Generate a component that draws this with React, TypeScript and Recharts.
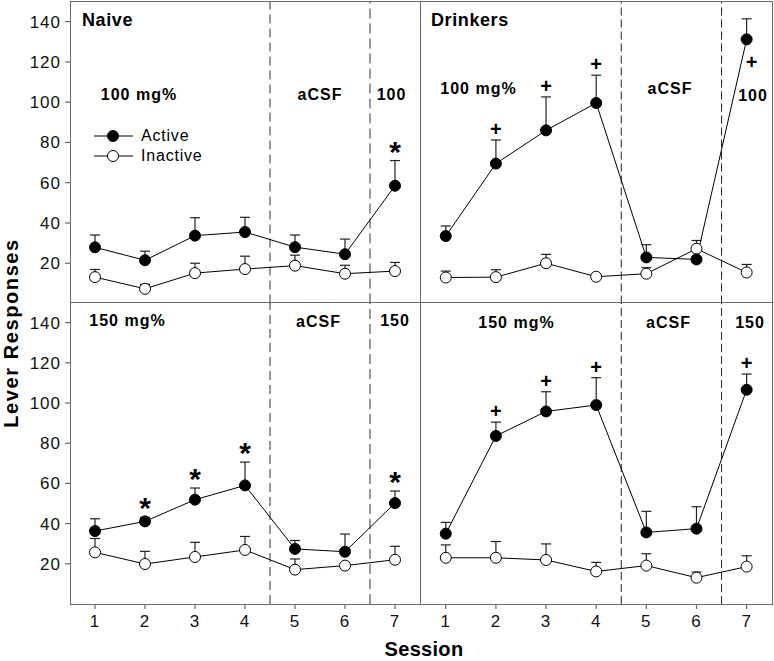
import React from "react";
import { ErrorBar, Line, LineChart, ReferenceLine, XAxis, YAxis } from "recharts";

const SESSIONS = [1, 2, 3, 4, 5, 6, 7];
const Y_TICKS = [20, 40, 60, 80, 100, 120, 140];

// naive, 100 mg%
const NAIVE_100_ACTIVE = [27.9, 21.5, 33.7, 35.5, 28, 24.5, 58.5];
const NAIVE_100_ACTIVE_SEM = [6.1, 4.5, 8.9, 7.3, 6, 7.5, 12.5];
const NAIVE_100_INACTIVE = [13.1, 7.3, 15.1, 17.1, 18.8, 14.8, 16.1];
const NAIVE_100_INACTIVE_SEM = [3.8, 2.2, 4.9, 6.4, 5.2, 4.2, 4.3];
const NAIVE_100_MARKS = ["", "", "", "", "", "", "*"];

// drinkers, 100 mg%
const DRINK_100_ACTIVE = [33.5, 69.5, 86, 99.6, 22.9, 21.9, 131.2];
const DRINK_100_ACTIVE_SEM = [5, 11.7, 16.6, 13.8, 6.3, 1, 10.2];
const DRINK_100_INACTIVE = [12.9, 13.1, 20, 13.3, 14.8, 27.2, 15.4];
const DRINK_100_INACTIVE_SEM = [3.2, 3.7, 4.4, 1, 3, 4.1, 4];
const DRINK_100_MARKS = ["", "+", "+", "+", "", "", "+"];
const DRINK_100_MARK_BELOW = [7];

// naive, 150 mg%
const NAIVE_150_ACTIVE = [36.3, 41.1, 51.9, 59, 27.4, 26, 50.2];
const NAIVE_150_ACTIVE_SEM = [6.1, 2, 5.8, 11.6, 4.2, 8.8, 6];
const NAIVE_150_INACTIVE = [25.7, 19.9, 23.4, 26.9, 17.1, 19.1, 22];
const NAIVE_150_INACTIVE_SEM = [6.9, 6.3, 7.3, 6.7, 5.3, 1, 6.7];
const NAIVE_150_MARKS = ["", "*", "*", "*", "", "", "*"];

// drinkers, 150 mg%
const DRINK_150_ACTIVE = [35, 83.6, 95.8, 99, 35.6, 37.5, 106.6];
const DRINK_150_ACTIVE_SEM = [5.6, 6.9, 9.8, 13.6, 10.5, 10.9, 7.8];
const DRINK_150_INACTIVE = [23, 23, 21.9, 16.2, 19.1, 13.1, 18.6];
const DRINK_150_INACTIVE_SEM = [6.4, 8.1, 8, 4.5, 5.9, 2.8, 5.4];
const DRINK_150_MARKS = ["", "+", "+", "+", "", "", "+"];

const FONT = "'Liberation Sans', Arial, sans-serif";
const FRAME = "#6a6a6a";

type PanelProps = {
  left: number;
  top: number;
  width: number;
  height: number;
  margin: { top: number; right: number; bottom: number; left: number };
  active: number[];
  activeSem: number[];
  inactive: number[];
  inactiveSem: number[];
  marks: string[];
  markBelow?: number[];
  yAxis: boolean;
  xAxis: boolean;
  grayDash: boolean;
};

function buildRows(p: PanelProps) {
  return SESSIONS.map((s, i) => {
    const below = (p.markBelow ?? []).includes(s);
    return {
      session: s,
      active: p.active[i],
      inactive: p.inactive[i],
      activeErr: [0, p.activeSem[i]],
      inactiveErr: [0, p.inactiveSem[i]],
      markTop: p.marks[i] ? (below ? p.active[i] : p.active[i] + p.activeSem[i]) : null,
      mark: p.marks[i],
      below,
    };
  });
}

function MarkDot(props: any) {
  const { cx, cy, payload, index } = props;
  if (cx == null || cy == null || !payload || !payload.mark) return <g key={index} />;
  if (payload.mark === "*") {
    return (
      <text key={index} x={cx} y={cy + 1} textAnchor="middle" fontFamily={FONT} fontWeight="bold" fontSize={30} fill="#000">
        *
      </text>
    );
  }
  if (payload.below) {
    return (
      <text key={index} x={cx + 5} y={cy + 30} textAnchor="middle" fontFamily={FONT} fontWeight="bold" fontSize={20} fill="#000">
        +
      </text>
    );
  }
  return (
    <text key={index} x={cx} y={cy - 4} textAnchor="middle" fontFamily={FONT} fontWeight="bold" fontSize={20} fill="#000">
      +
    </text>
  );
}

function Panel(p: PanelProps) {
  const rows = buildRows(p);
  const tickStyle = { fontFamily: FONT, fontSize: 17, fill: "#111", letterSpacing: 1 };
  return (
    <div style={{ position: "absolute", left: p.left, top: p.top }}>
      <LineChart width={p.width} height={p.height} data={rows} margin={p.margin}>
        <XAxis
          dataKey="session"
          type="number"
          domain={[0.5, 7.5]}
          ticks={SESSIONS}
          hide={!p.xAxis}
          height={30}
          axisLine={false}
          tickLine={{ stroke: FRAME, strokeWidth: 1.2 }}
          tickSize={5}
          tickMargin={6}
          tick={tickStyle}
        />
        <YAxis
          type="number"
          domain={[0, 150]}
          ticks={Y_TICKS}
          hide={!p.yAxis}
          width={70}
          axisLine={false}
          tickLine={{ stroke: FRAME, strokeWidth: 1.2 }}
          tickSize={5}
          tickMargin={4}
          tick={tickStyle}
        />
        <ReferenceLine
          x={4.5}
          stroke={p.grayDash ? "#555" : "#222"}
          strokeWidth={p.grayDash ? 1.2 : 1}
          strokeDasharray={p.grayDash ? "9 5" : "8 4"}
        />
        <ReferenceLine
          x={6.5}
          stroke={p.grayDash ? "#999" : "#222"}
          strokeWidth={p.grayDash ? 2 : 1}
          strokeDasharray={p.grayDash ? "10 5" : "8 4"}
        />
        <Line dataKey="inactive" stroke="none" dot={false} activeDot={false} isAnimationActive={false} legendType="none">
          <ErrorBar dataKey="inactiveErr" direction="y" width={5} stroke="#222" strokeWidth={1.2} />
        </Line>
        <Line dataKey="active" stroke="none" dot={false} activeDot={false} isAnimationActive={false} legendType="none">
          <ErrorBar dataKey="activeErr" direction="y" width={5} stroke="#222" strokeWidth={1.2} />
        </Line>
        <Line
          dataKey="inactive"
          stroke="#000"
          strokeWidth={1}
          dot={{ r: 5.5, fill: "#fff", stroke: "#000", strokeWidth: 1 }}
          activeDot={false}
          isAnimationActive={false}
        />
        <Line
          dataKey="active"
          stroke="#000"
          strokeWidth={1}
          dot={{ r: 5.5, fill: "#000", stroke: "#000", strokeWidth: 1 }}
          activeDot={false}
          isAnimationActive={false}
        />
        <Line
          dataKey="markTop"
          stroke="none"
          dot={MarkDot}
          activeDot={false}
          isAnimationActive={false}
          connectNulls={false}
        />
      </LineChart>
    </div>
  );
}

function Tag({ x, y, text, size = 16, bold = true, center = true, spacing = 1 }: any) {
  return (
    <div
      style={{
        position: "absolute",
        left: x,
        top: y,
        transform: center ? "translate(-50%, -50%)" : "translate(0, -50%)",
        fontFamily: FONT,
        fontWeight: bold ? "bold" : "normal",
        fontSize: size,
        letterSpacing: spacing,
        lineHeight: 1.15,
        whiteSpace: "nowrap",
        color: "#000",
      }}
    >
      {text}
    </div>
  );
}

function LegendRow({ y, filled, label }: { y: number; filled: boolean; label: string }) {
  return (
    <>
      <svg style={{ position: "absolute", left: 92, top: y - 7 }} width={44} height={14}>
        <line x1={2} y1={7} x2={41} y2={7} stroke="#000" strokeWidth={1} />
        <circle cx={21} cy={7} r={5.5} fill={filled ? "#000" : "#fff"} stroke="#000" strokeWidth={1} />
      </svg>
      <Tag x={141} y={y} text={label} size={16} bold={false} center={false} spacing={0.8} />
    </>
  );
}

export default function App() {
  return (
    <div style={{ position: "absolute", left: 0, top: 0, width: 774, height: 661, background: "#fff", overflow: "hidden" }}>
      <Panel
        left={0} top={0} width={430} height={320}
        margin={{ top: 1.5, right: 10, bottom: 16.5, left: 0 }}
        active={NAIVE_100_ACTIVE} activeSem={NAIVE_100_ACTIVE_SEM}
        inactive={NAIVE_100_INACTIVE} inactiveSem={NAIVE_100_INACTIVE_SEM}
        marks={NAIVE_100_MARKS} yAxis xAxis={false} grayDash
      />
      <Panel
        left={410} top={0} width={364} height={320}
        margin={{ top: 1.5, right: 2.3, bottom: 16.5, left: 10.7 }}
        active={DRINK_100_ACTIVE} activeSem={DRINK_100_ACTIVE_SEM}
        inactive={DRINK_100_INACTIVE} inactiveSem={DRINK_100_INACTIVE_SEM}
        marks={DRINK_100_MARKS} markBelow={DRINK_100_MARK_BELOW} yAxis={false} xAxis={false} grayDash={false}
      />
      <Panel
        left={0} top={295} width={430} height={366}
        margin={{ top: 7.5, right: 10, bottom: 27, left: 0 }}
        active={NAIVE_150_ACTIVE} activeSem={NAIVE_150_ACTIVE_SEM}
        inactive={NAIVE_150_INACTIVE} inactiveSem={NAIVE_150_INACTIVE_SEM}
        marks={NAIVE_150_MARKS} yAxis xAxis grayDash
      />
      <Panel
        left={410} top={295} width={364} height={366}
        margin={{ top: 7.5, right: 2.3, bottom: 27, left: 10.7 }}
        active={DRINK_150_ACTIVE} activeSem={DRINK_150_ACTIVE_SEM}
        inactive={DRINK_150_INACTIVE} inactiveSem={DRINK_150_INACTIVE_SEM}
        marks={DRINK_150_MARKS} yAxis={false} xAxis grayDash={false}
      />

      {/* panel frames */}
      <div style={{ position: "absolute", left: 69.5, top: 1, width: 703, height: 603.5, border: `1.5px solid ${FRAME}`, boxSizing: "border-box", pointerEvents: "none" }} />
      <div style={{ position: "absolute", left: 69.5, top: 301.5, width: 703, height: 1.5, background: FRAME }} />
      <div style={{ position: "absolute", left: 419.5, top: 1, width: 1.5, height: 603.5, background: FRAME }} />

      <Tag x={82} y={19.5} text="Naive" size={18} center={false} spacing={0.6} />
      <Tag x={431} y={20} text="Drinkers" size={18} center={false} spacing={0.6} />

      <Tag x={139} y={95} text="100 mg%" />
      <Tag x={320} y={95} text="aCSF" />
      <Tag x={391.5} y={95} text="100" />
      <Tag x={478.5} y={89} text="100 mg%" />
      <Tag x={670} y={89} text="aCSF" />
      <Tag x={753} y={96} text="100" />

      <Tag x={127.5} y={321} text="150 mg%" />
      <Tag x={318.5} y={322} text="aCSF" />
      <Tag x={395} y={321} text="150" />
      <Tag x={516.5} y={323} text="150 mg%" />
      <Tag x={668.5} y={323} text="aCSF" />
      <Tag x={750} y={323} text="150" />

      <LegendRow y={136} filled label="Active" />
      <LegendRow y={156} filled={false} label="Inactive" />

      <Tag x={424} y={649} text="Session" size={20} spacing={0.3} />
      <div
        style={{
          position: "absolute",
          left: 11,
          top: 333,
          transform: "translate(-50%, -50%) rotate(-90deg)",
          fontFamily: FONT,
          fontWeight: "bold",
          fontSize: 20,
          letterSpacing: 1.6,
          lineHeight: 1.15,
          whiteSpace: "nowrap",
        }}
      >
        Lever Responses
      </div>
    </div>
  );
}
